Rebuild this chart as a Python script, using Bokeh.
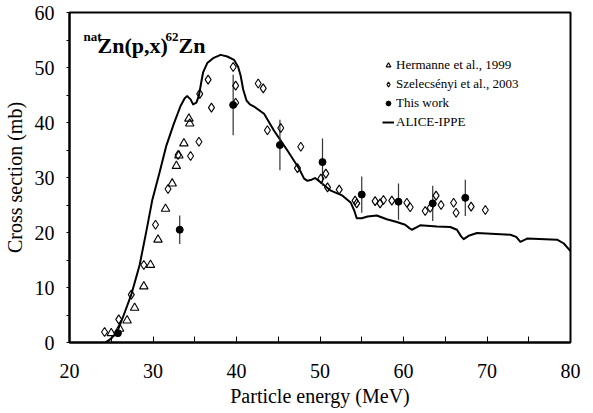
from bokeh.plotting import figure
from bokeh.models import FixedTicker, Legend, LegendItem, ColumnDataSource
from bokeh.core.properties import value
from bokeh.embed import file_html
from bokeh.resources import INLINE

# --- data ---
herm_x = [25.0, 26.0, 26.9, 27.8, 28.9, 29.7, 30.6, 31.5, 32.3, 32.8, 33.1, 33.7, 34.3, 34.4]
herm_y = [1.7, 2.5, 4.0, 6.3, 10.2, 14.1, 18.7, 24.3, 28.9, 32.1, 34.0, 36.2, 40.7, 39.8]

szel_x = [24.2, 25.9, 27.4, 28.9, 30.3, 31.8, 33.0, 34.5, 35.5, 35.6, 36.6, 37.0, 39.6, 39.9,
          39.9, 42.6, 43.2, 43.7, 45.3, 47.3, 47.7, 50.1, 50.7, 50.9, 52.3, 54.2, 54.4, 56.6,
          57.2, 57.6, 58.6, 60.4, 60.8, 62.6, 63.2, 63.9, 64.5, 66.0, 66.3, 68.1, 69.8]
szel_y = [1.9, 4.2, 8.7, 14.1, 21.4, 27.9, 34.1, 33.9, 36.5, 45.2, 47.8, 42.7, 50.1, 46.7,
          43.6, 47.1, 46.2, 38.6, 39.0, 31.7, 35.6, 29.8, 30.7, 28.2, 27.8, 25.8, 25.3, 25.7,
          25.3, 25.9, 25.8, 25.4, 24.6, 23.9, 24.5, 26.7, 25.0, 25.4, 23.6, 24.7, 24.1]

work_x = [25.8, 33.2, 39.6, 45.2, 50.3, 55.0, 59.4, 63.5, 67.4]
work_y = [1.7, 20.5, 43.2, 35.9, 32.8, 26.9, 25.6, 25.3, 26.3]
work_err = [0.2, 2.6, 5.5, 4.6, 4.3, 3.3, 3.3, 3.2, 3.3]

alice_x = [24.3, 24.9, 25.7, 26.5, 27.4, 28.4, 29.2, 29.9, 30.8, 31.6, 32.5, 33.3, 33.8, 34.1,
           34.5, 34.8, 35.2, 35.5, 35.8, 36.0, 36.5, 37.2, 38.1, 38.9, 39.7, 40.2, 40.5, 40.8,
           41.2, 41.6, 42.1, 43.3, 44.5, 46.1, 47.5, 48.1, 48.5, 49.0, 49.4, 50.1, 51.3, 52.7,
           53.7, 54.1, 54.4, 55.0, 55.7, 56.8, 58.0, 59.2, 60.2, 60.7, 61.0, 61.5, 62.0, 64.0,
           65.6, 66.4, 66.9, 67.2, 67.8, 68.8, 72.8, 73.5, 74.0, 74.8, 78.4, 79.2, 80.0]
alice_y = [0.0, 0.6, 1.9, 5.0, 8.7, 14.1, 20.2, 25.8, 31.0, 35.8, 39.8, 43.0, 44.4, 44.8,
           44.2, 43.3, 43.6, 44.9, 47.5, 49.1, 50.8, 51.7, 52.3, 52.0, 51.4, 50.1, 48.5, 46.0,
           44.0, 43.3, 42.9, 41.6, 38.5, 34.9, 31.6, 29.8, 29.4, 29.6, 29.9, 29.1, 27.6, 26.7,
           25.4, 24.0, 22.6, 22.6, 22.9, 23.1, 22.4, 21.9, 21.4, 20.8, 20.5, 20.9, 21.3, 21.1,
           21.0, 20.5, 19.3, 18.8, 19.4, 19.9, 19.6, 19.2, 18.3, 18.9, 18.7, 18.0, 16.6]

x_major = [20, 30, 40, 50, 60, 70, 80]
x_minor = [25, 35, 45, 55, 65, 75]
y_major = [0, 10, 20, 30, 40, 50, 60]
y_minor = [5, 15, 25, 35, 45, 55]

legend_labels = ["Hermanne et al., 1999", "Szelecsényi et al., 2003", "This work", "ALICE-IPPE"]

FONT = "Liberation Serif"

p = figure(width=593, height=413, x_range=(20, 80), y_range=(0, 60),
           output_backend="svg", toolbar_location=None,
           min_border_left=69, min_border_right=23, min_border_top=12, min_border_bottom=71)
p.xgrid.visible = False
p.ygrid.visible = False
p.outline_line_color = "black"
p.outline_line_width = 2
p.background_fill_color = "white"
p.border_fill_color = "white"

p.xaxis.ticker = FixedTicker(ticks=x_major, minor_ticks=x_minor)
p.yaxis.ticker = FixedTicker(ticks=y_major, minor_ticks=y_minor)
for ax in (p.xaxis[0], p.yaxis[0]):
    ax.axis_line_width = 2
    ax.axis_line_color = "black"
    ax.major_label_text_font = FONT
    ax.major_label_text_font_size = "20px"
    ax.major_label_text_color = "black"
    ax.axis_label_text_font = FONT
    ax.axis_label_text_font_size = "20px"
    ax.axis_label_text_font_style = "normal"
    ax.axis_label_text_color = "black"
    ax.major_tick_line_color = "black"
    ax.minor_tick_line_color = "black"

p.xaxis.major_tick_in = 6
p.xaxis.major_tick_out = 0
p.xaxis.minor_tick_in = 6
p.xaxis.minor_tick_out = 0
p.xaxis.major_label_standoff = 21
p.xaxis.axis_label = "Particle energy (MeV)"
p.xaxis.axis_label_standoff = 4

p.yaxis.major_tick_in = 0
p.yaxis.major_tick_out = 3
p.yaxis.minor_tick_in = 0
p.yaxis.minor_tick_out = 3
p.yaxis.major_label_standoff = 12
p.yaxis.axis_label = "Cross section (mb)"
p.yaxis.axis_label_standoff = 6

# ALICE-IPPE curve
r_line = p.line(alice_x, alice_y, line_color="black", line_width=2, line_join="round")

# error bars
y_lo = [y - e for y, e in zip(work_y, work_err)]
y_hi = [y + e for y, e in zip(work_y, work_err)]
p.segment(x0=work_x, y0=y_lo, x1=work_x, y1=y_hi, line_color="#333333", line_width=1.2)

r_herm = p.scatter(herm_x, herm_y, marker="triangle", size=8.5, fill_color=None,
                   line_color="black", line_width=1.1)
r_szel = p.scatter(szel_x, szel_y, marker="diamond", size=9, fill_color=None,
                   line_color="black", line_width=1.1)
r_work = p.scatter(work_x, work_y, marker="circle", size=7, fill_color="black",
                   line_color="black")

legend = Legend(items=[
    LegendItem(label=legend_labels[0], renderers=[r_herm]),
    LegendItem(label=legend_labels[1], renderers=[r_szel]),
    LegendItem(label=legend_labels[2], renderers=[r_work]),
    LegendItem(label=legend_labels[3], renderers=[r_line]),
], location=(313, 212))
legend.label_text_font = FONT
legend.label_text_font_size = "13px"
legend.label_text_color = "black"
legend.glyph_width = 12
legend.glyph_height = 14
legend.label_height = 14
legend.label_standoff = 2
legend.spacing = 3
legend.padding = 0
legend.margin = 0
legend.border_line_color = None
legend.background_fill_color = None
p.add_layout(legend)

# title inside plot: natZn(p,x)62Zn
title_src = ColumnDataSource(dict(
    x=[21.68, 23.35, 31.5, 33.05],
    y=[55.6, 54.0, 55.6, 54.0],
    t=["nat", "Zn(p,x)", "62", "Zn"],
    s=["13px", "22px", "13px", "22px"],
))
p.text(x="x", y="y", text="t", source=title_src, text_font=value(FONT),
       text_font_size="s", text_font_style="bold", text_color="black",
       text_baseline="alphabetic", text_align="left")

open("out.html", "w").write(file_html(p, INLINE))
